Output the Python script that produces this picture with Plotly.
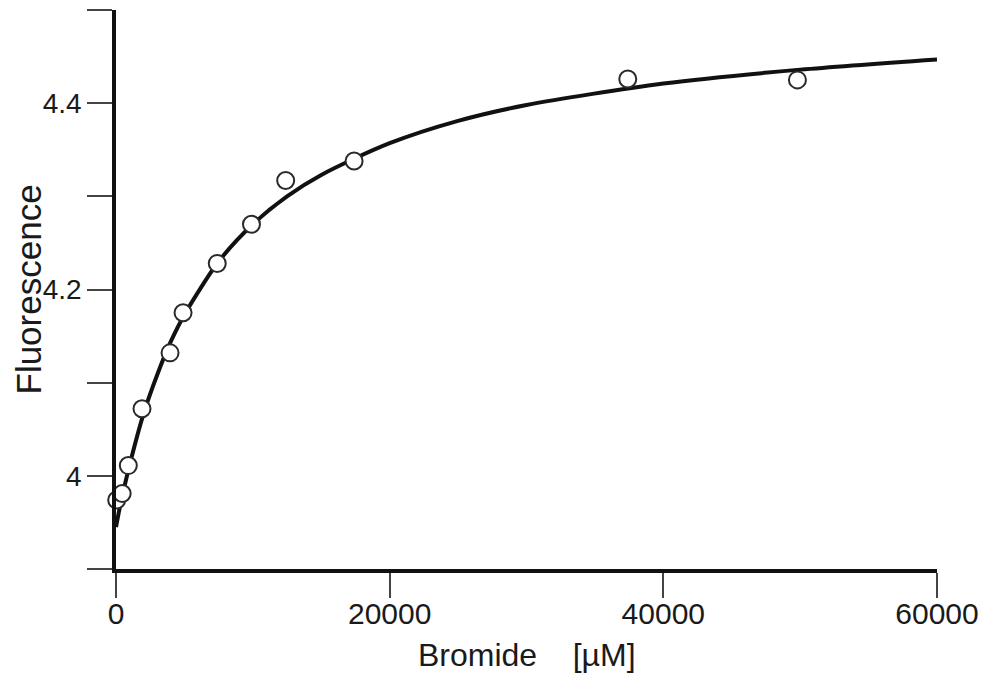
import plotly.graph_objects as go

# Measured data points (Bromide concentration in µM, fluorescence)
bromide_uM = [50, 450, 900, 1900, 3950, 4900, 7400, 9900, 12400, 17400, 37400, 49800]
fluorescence = [3.974, 3.981, 4.011, 4.072, 4.132, 4.175, 4.228, 4.270, 4.317, 4.338, 4.426, 4.425]

# Fitted curve
curve_x = [0, 250, 500, 1000, 2000, 3000, 4000, 5000, 7500, 10000, 12500, 15000,
           20000, 25000, 30000, 40000, 50000, 60000]
curve_y = [3.945, 3.964, 3.981, 4.012, 4.066, 4.108, 4.144, 4.173, 4.230, 4.270, 4.300, 4.323,
           4.357, 4.381, 4.398, 4.421, 4.436, 4.447]

x_tickvals = [0, 20000, 40000, 60000]
x_ticktext = ["0", "20000", "40000", "60000"]
y_tickvals = [3.9, 4.0, 4.1, 4.2, 4.3, 4.4, 4.5]
y_ticktext = ["", "4", "", "4.2", "", "4.4", ""]

FONT = "Liberation Sans, Arial, sans-serif"
TXT = "#1a1a1a"

fig = go.Figure()
fig.add_trace(go.Scatter(
    x=curve_x, y=curve_y, mode="lines",
    line=dict(color="#111111", width=4, shape="spline", smoothing=0.8),
    hoverinfo="skip", showlegend=False, cliponaxis=False,
))
fig.add_trace(go.Scatter(
    x=bromide_uM, y=fluorescence, mode="markers",
    marker=dict(symbol="circle", size=17, color="white",
                line=dict(color="#2a2a2a", width=2)),
    showlegend=False, cliponaxis=False,
))

fig.update_layout(
    width=982, height=677,
    margin=dict(l=108, r=53, t=2, b=116),
    paper_bgcolor="white", plot_bgcolor="white",
    font=dict(family=FONT, color=TXT),
    xaxis=dict(
        range=[0, 60000], tickvals=x_tickvals, ticktext=x_ticktext,
        showgrid=False, zeroline=False,
        showline=True, linecolor="#111111", linewidth=3.5,
        ticks="outside", ticklen=25, tickwidth=1.5, tickcolor="#444444",
        ticklabelstandoff=-10,
        tickfont=dict(size=30, family=FONT, color=TXT),
    ),
    yaxis=dict(
        range=[3.9, 4.5], tickvals=y_tickvals, ticktext=y_ticktext,
        showgrid=False, zeroline=False,
        showline=True, linecolor="#111111", linewidth=3.5,
        ticks="outside", ticklen=25, tickwidth=1.5, tickcolor="#444444",
        tickfont=dict(size=28, family=FONT, color=TXT),
    ),
    annotations=[
        dict(text="Bromide\u00a0\u00a0\u00a0\u00a0[µM]", xref="paper", yref="paper",
             x=0.5, y=0, yshift=-66, xanchor="center", yanchor="top",
             showarrow=False, font=dict(size=32, family=FONT, color=TXT)),
        dict(text="Fluorescence", xref="paper", yref="paper",
             x=0, xshift=-88, y=0.5, xanchor="center", yanchor="middle",
             textangle=-90, showarrow=False,
             font=dict(size=35, family=FONT, color=TXT)),
    ],
)

fig.write_html("out.html")
